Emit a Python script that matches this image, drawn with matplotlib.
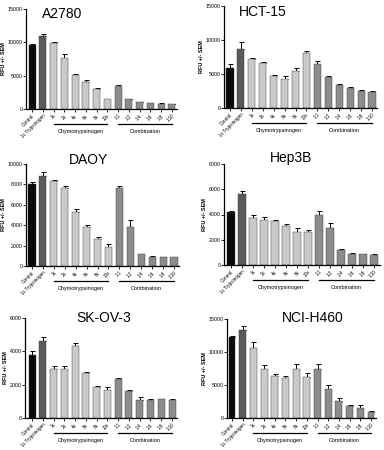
import matplotlib.pyplot as plt
import numpy as np

plt.rcParams['font.family'] = ['Liberation Sans', 'DejaVu Sans']

labels = ['Control', '1x Trypsinogen', '1x', '2x', '4x', '6x', '8x', '10x',
          '1:1', '1:2', '1:4', '1:6', '1:8', '1:10']
bar_colors = ['#0a0a0a', '#5a5a5a'] + ['#c9c9c9'] * 6 + ['#8c8c8c'] * 6

a2780 = [9600, 11000, 9900, 7600, 5100, 4100, 3050, 1450, 3400, 1450, 1000, 850, 800, 750]
a2780_err = [200, 300, 150, 600, 200, 200, 100, 100, 150, 80, 60, 50, 50, 50]
hct15 = [5900, 8650, 7150, 6550, 4700, 4300, 5450, 8150, 6450, 4500, 3400, 3000, 2500, 2400]
hct15_err = [600, 1000, 200, 200, 150, 400, 400, 300, 400, 200, 150, 100, 150, 150]
daoy = [8050, 8800, 8300, 7600, 5300, 3800, 2600, 1850, 7600, 3800, 1150, 900, 850, 850]
daoy_err = [200, 450, 100, 250, 250, 250, 250, 350, 250, 700, 50, 50, 40, 40]
hep3b = [4200, 5600, 3750, 3600, 3450, 3100, 2600, 2600, 3950, 2950, 1200, 900, 850, 830]
hep3b_err = [80, 300, 200, 200, 100, 120, 300, 200, 300, 350, 50, 40, 30, 30]
skov3 = [3800, 4650, 2950, 2950, 4350, 2700, 1850, 1700, 2350, 1600, 1100, 1080, 1120, 1080]
skov3_err = [250, 200, 150, 150, 150, 50, 50, 150, 50, 80, 150, 40, 40, 40]
h460 = [12300, 13400, 10600, 7400, 6300, 6000, 7500, 6200, 7500, 4450, 2550, 1850, 1450, 950]
h460_err = [100, 600, 900, 700, 300, 400, 700, 600, 700, 500, 500, 100, 500, 100]

# name, values, errors, ymax, ystep, axes box (px: left x, zero y, top y, first bar x, last bar x), title pos
panels = [
    ('A2780', a2780, a2780_err, 15000, 5000, (26, 109, 9, 32, 172), (62, 14)),
    ('HCT-15', hct15, hct15_err, 15000, 5000, (224, 108, 6, 230, 372), (263, 12)),
    ('DAOY', daoy, daoy_err, 10000, 2000, (26, 266, 164, 32, 174), (88, 160)),
    ('Hep3B', hep3b, hep3b_err, 8000, 2000, (224, 265, 164, 231, 374), (291, 158)),
    ('SK-OV-3', skov3, skov3_err, 6000, 2000, (25, 418, 318, 32, 172), (104, 318)),
    ('NCI-H460', h460, h460_err, 15000, 5000, (227, 418, 319, 232, 371), (313, 318)),
]

W, H = 384, 450
fig = plt.figure(figsize=(W / 100, H / 100), dpi=100)
fig.patch.set_facecolor('white')

x = np.arange(len(labels))
for name, vals, errs, ymax, ystep, box, tpos in panels:
    lx, y0, y1, b0, b1 = box
    step = (b1 - b0) / 13
    xmin = -(b0 - lx) / step
    xmax = 13 + 0.5
    right = lx + (xmax - xmin) * step
    ax = fig.add_axes([lx / W, 1 - y0 / H, (right - lx) / W, (y0 - y1) / H])
    ax.bar(x, vals, width=0.65, color=bar_colors, edgecolor='#333333', linewidth=0.3, zorder=2)
    ax.errorbar(x, vals, yerr=[np.zeros(len(errs)), errs], fmt='none', ecolor='black',
                elinewidth=0.7, capsize=1.8, capthick=0.7, zorder=1)
    ax.set_xlim(xmin, xmax)
    ax.set_ylim(0, ymax)
    ax.set_yticks(np.arange(0, ymax + 1, ystep))
    ax.set_xticks(x)
    ax.set_xticklabels(labels, rotation=45, ha='right', rotation_mode='anchor', fontsize=3.3)
    ax.tick_params(axis='y', labelsize=3.8, length=2, width=0.6, pad=0.5)
    ax.tick_params(axis='x', length=2, width=0.6, pad=1)
    for s in ['top', 'right']:
        ax.spines[s].set_visible(False)
    for s in ['left', 'bottom']:
        ax.spines[s].set_linewidth(0.9)
    ax.set_ylabel('RFU +/- SEM', fontsize=4, fontweight='bold', labelpad=1)
    tr = ax.get_xaxis_transform()
    ax.plot([2, 7], [-0.15, -0.15], color='black', lw=0.9, transform=tr, clip_on=False)
    ax.plot([8, 13], [-0.15, -0.15], color='black', lw=0.9, transform=tr, clip_on=False)
    ax.text(4.5, -0.2, 'Chymotrypsinogen', fontsize=4, ha='center', va='top', transform=tr)
    ax.text(10.5, -0.2, 'Combination', fontsize=4, ha='center', va='top', transform=tr)
    fig.text(tpos[0] / W, 1 - tpos[1] / H, name, fontsize=10, ha='center', va='center')

fig.savefig('out.png', dpi=100)
